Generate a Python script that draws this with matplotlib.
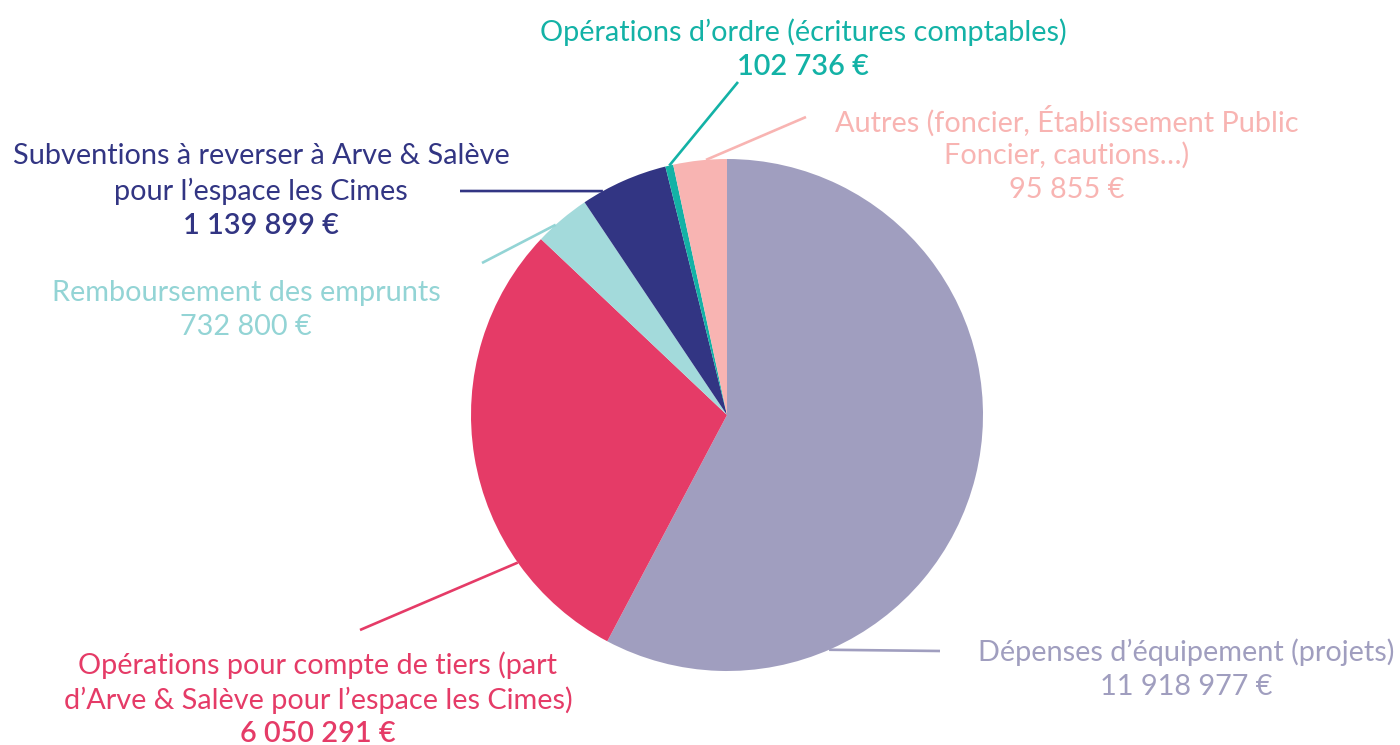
import numpy as np
import matplotlib
matplotlib.use("Agg")
import matplotlib.pyplot as plt

# ---- data ----
categories = [
    "Dépenses d’équipement (projets)",
    "Opérations pour compte de tiers (part\nd’Arve & Salève pour l’espace les Cimes)",
    "Remboursement des emprunts",
    "Subventions à reverser à Arve & Salève\npour l’espace les Cimes",
    "Opérations d’ordre (écritures comptables)",
    "Autres (foncier, Établissement Public\nFoncier, cautions…)",
]
# slice sizes as drawn in the picture (the "Autres" slice is drawn ~3.4 %)
slice_values = [11918977, 6050291, 732800, 1139899, 102736, 695855]
value_labels = ["11 918 977 €", "6 050 291 €", "732 800 €", "1 139 899 €", "102 736 €", "95 855 €"]
value_bold = [False, True, False, True, True, False]

slice_colors = ["#a09ebf", "#e53b67", "#a3dadb", "#323583", "#13b2a6", "#f8b4b2"]
text_colors = ["#a09ebf", "#e53b67", "#93d4d5", "#323583", "#13b2a6", "#f8b4b2"]

# ---- layout (pixel coordinates, y downwards) ----
W, H = 1400, 745
CX, CY, R = 727, 415, 256
anchor_angles = [-66.5, 215.2, 132.0, 119.0, None, 94.7]   # None -> wedge middle
line_ends = [(940, 651), (360, 630), (482, 263), (460, 191), (738, 82), (806, 117)]
label_pos = [(1186, 650), (318, 663), (246, 290), (261, 154), (803, 30), (1067, 118.5)]
LINE_H = 34.5

plt.rcParams['font.family'] = ['Lato', 'DejaVu Sans']
fig = plt.figure(figsize=(W / 100, H / 100), dpi=100)
ax = fig.add_axes([0, 0, 1, 1])

def Y(py):
    return H - py

wedges, _ = ax.pie(slice_values, colors=slice_colors, startangle=90, counterclock=False,
                   center=(CX, Y(CY)), radius=R, wedgeprops=dict(linewidth=0),
                   frame=True)
ax.set_xlim(0, W)
ax.set_ylim(0, H)
ax.set_aspect('equal')
ax.axis('off')

for i, w in enumerate(wedges):
    ang = anchor_angles[i]
    if ang is None:
        ang = (w.theta1 + w.theta2) / 2
    a = np.deg2rad(ang)
    x0 = CX + R * np.cos(a)
    y0 = Y(CY) + R * np.sin(a)
    ex, ey = line_ends[i]
    ax.plot([x0, ex], [y0, Y(ey)], color=text_colors[i], lw=1.9, solid_capstyle='butt', zorder=3)

    lx, ly = label_pos[i]
    lines = categories[i].split("\n")
    for k, t in enumerate(lines):
        ax.text(lx, Y(ly + k * LINE_H), t, ha='center', va='center_baseline',
                fontsize=20.8, color=text_colors[i])
    ax.text(lx, Y(ly + len(lines) * LINE_H), value_labels[i], ha='center', va='center_baseline',
            fontsize=20.8, color=text_colors[i],
            fontweight='semibold' if value_bold[i] else 'normal')

fig.savefig("out.png", dpi=100)
